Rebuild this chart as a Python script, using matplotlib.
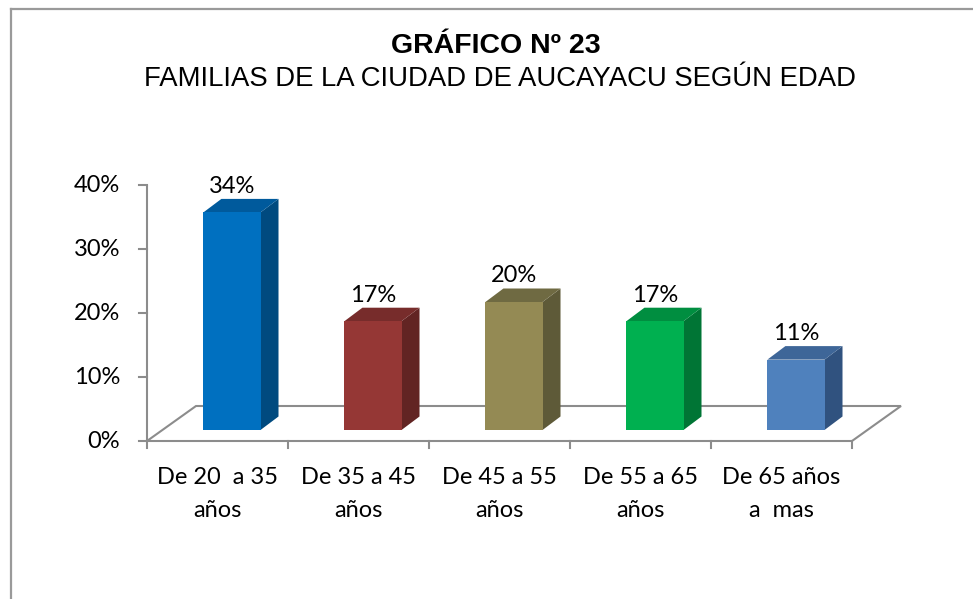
import matplotlib
matplotlib.use("Agg")
import matplotlib.pyplot as plt
from matplotlib.patches import Polygon, Rectangle
from matplotlib.lines import Line2D

# ---- data ----
categories = ["De 20  a 35\naños", "De 35 a 45\naños", "De 45 a 55\naños",
              "De 55 a 65\naños", "De 65 años\na  mas"]
values = [34, 17, 20, 17, 11]
value_labels = ["34%", "17%", "20%", "17%", "11%"]
y_ticks = [0, 10, 20, 30, 40]
y_tick_labels = ["0%", "10%", "20%", "30%", "40%"]
title = "GRÁFICO Nº 23"
subtitle = "FAMILIAS DE LA CIUDAD DE AUCAYACU SEGÚN EDAD"

front_colors = ["#0070C0", "#953735", "#948A54", "#00B050", "#4F81BD"]
top_colors = ["#005A9C", "#772C2B", "#6F6A42", "#008E40", "#3E6698"]
side_colors = ["#004A7F", "#622423", "#5E5A38", "#007535", "#30527F"]

# ---- figure ----
W, H = 973, 599
fig = plt.figure(figsize=(W / 100, H / 100), dpi=100)
fig.patch.set_facecolor("white")

def fx(px):
    return px / W

def fy(py):
    return 1 - py / H

x0, x1, y0, y1 = 147, 852, 441, 185
ax = fig.add_axes([fx(x0), fy(y0), fx(x1) - fx(x0), fy(y1) - fy(y0)])
ax.set_xlim(0, len(values))
ax.set_ylim(0, 40)
ax.axis("off")

ux = (x1 - x0) / len(values)   # px per x unit
uy = (y0 - y1) / 40.0          # px per y unit

# perspective depths (px -> data)
floor_dx, floor_dy = 49 / ux, 35 / uy
bar_dx, bar_dy = 18 / ux, 13.5 / uy
base = 11 / uy
bar_left, bar_w = 0.40, 0.405

grey = "#8C8C8C"
lw = 1.5
n = len(values)

# floor
ax.add_patch(Polygon([(0, 0), (n, 0), (n + floor_dx, floor_dy), (floor_dx, floor_dy)],
                     closed=True, facecolor="white", edgecolor=grey, lw=lw,
                     clip_on=False, zorder=1))
# y axis
ax.plot([0, 0], [0, 40], color=grey, lw=lw, clip_on=False, zorder=2, solid_capstyle="butt")
tick_len_x = 8 / ux
for t, lab in zip(y_ticks, y_tick_labels):
    ax.plot([-tick_len_x, 0], [t, t], color=grey, lw=lw, clip_on=False, zorder=2)
    ax.text(-27 / ux, t, lab, ha="right", va="center", fontsize=17,
            family=["Lato", "DejaVu Sans"], color="black")
# x ticks
tick_len_y = 7 / uy
for k in range(n + 1):
    ax.plot([k, k], [0, -tick_len_y], color=grey, lw=lw, clip_on=False, zorder=2)
for i, lab in enumerate(categories):
    ax.text(i + 0.5, -26 / uy, lab, ha="center", va="top", fontsize=17,
            family=["Lato", "DejaVu Sans"], linespacing=1.7, color="black")

# bars
for i, v in enumerate(values):
    L = i + bar_left
    R = L + bar_w
    B = base
    T = base + v
    ax.add_patch(Polygon([(R, B), (R + bar_dx, B + bar_dy), (R + bar_dx, T + bar_dy), (R, T)],
                         closed=True, facecolor=side_colors[i], edgecolor="none",
                         clip_on=False, zorder=3))
    ax.add_patch(Polygon([(L, T), (R, T), (R + bar_dx, T + bar_dy), (L + bar_dx, T + bar_dy)],
                         closed=True, facecolor=top_colors[i], edgecolor="none",
                         clip_on=False, zorder=3))
    ax.add_patch(Rectangle((L, B), bar_w, v, facecolor=front_colors[i],
                           edgecolor="none", clip_on=False, zorder=4))
    ax.text(L + bar_w / 2, T + 26 / uy, value_labels[i], ha="center", va="center",
            fontsize=17, family=["Lato", "DejaVu Sans"], color="black", zorder=5)

# titles
fig.text(fx(496), fy(46), title, ha="center", va="center", fontsize=20.5,
         fontweight="bold", family=["Liberation Sans", "DejaVu Sans"])
fig.text(fx(500), fy(79), subtitle, ha="center", va="center", fontsize=19.8,
         family=["Liberation Sans", "DejaVu Sans"])

# chart border (cut at right and bottom)
bc = "#9A9A9A"
fig.add_artist(Line2D([fx(11), 1.01], [fy(9), fy(9)], transform=fig.transFigure,
                      color=bc, lw=1.6))
fig.add_artist(Line2D([fx(11), fx(11)], [fy(9), -0.01], transform=fig.transFigure,
                      color=bc, lw=1.6))

fig.savefig("out.png", dpi=100, facecolor="white")
